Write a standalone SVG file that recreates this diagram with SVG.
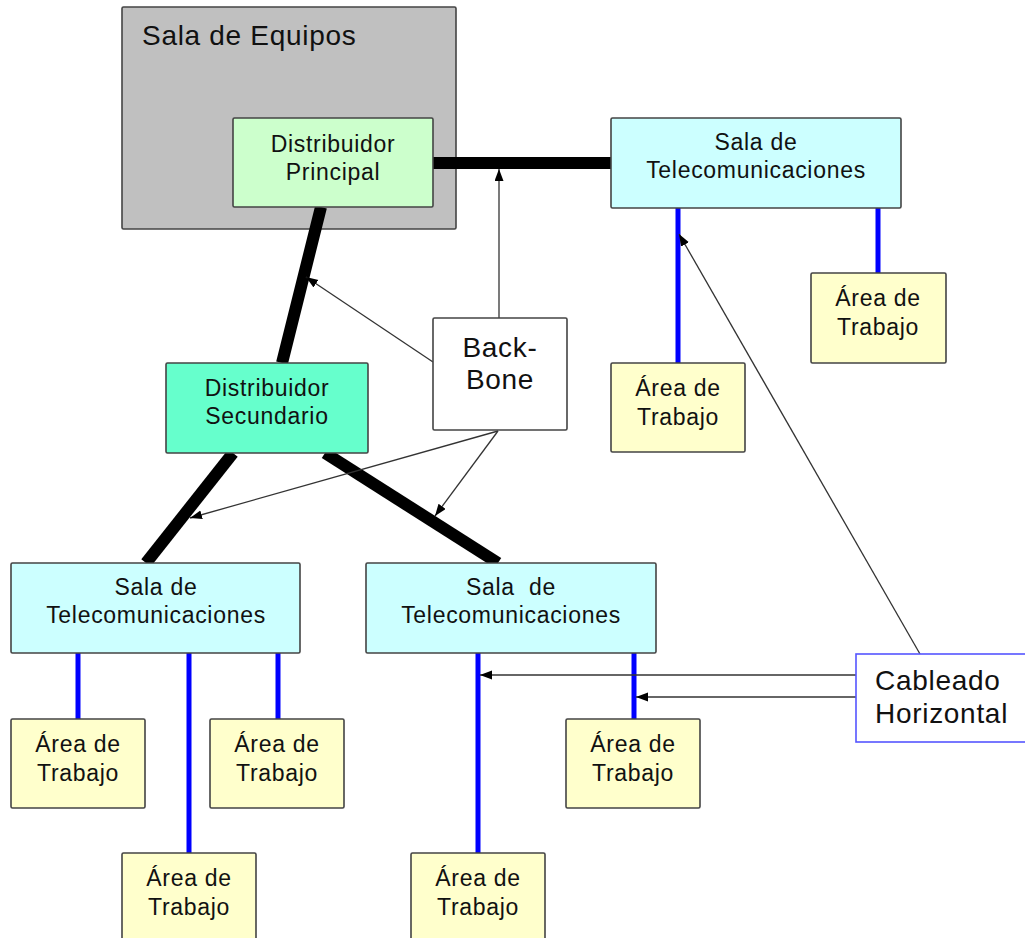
<svg xmlns="http://www.w3.org/2000/svg" width="1025" height="938" viewBox="0 0 1025 938">
<style>
text{font-family:"Liberation Sans",Arial,sans-serif;fill:#111;letter-spacing:0.7px}
.m{font-size:23px;text-anchor:middle}
.big{font-size:28px}
.box{stroke:#444;stroke-width:1.6}
.dp{fill:#ccffcc}
.ds{fill:#66ffcc}
.st{fill:#ccffff}
.at{fill:#ffffcc}
.thick{stroke:#000;stroke-width:12;fill:none}
.blue{stroke:#0000ff;stroke-width:5;fill:none}
.thin{stroke:#333;stroke-width:1.3;fill:none;marker-end:url(#ah)}
</style>
<defs>
<marker id="ah" markerUnits="userSpaceOnUse" markerWidth="13" markerHeight="10" refX="12" refY="4.5" orient="auto">
<path d="M0,0 L12,4.5 L0,9 z" fill="#000"/>
</marker>
</defs>
<rect width="1025" height="938" fill="#fff"/>
<g id="sala-equipos">
<rect class="box" x="122" y="7" width="334" height="222" rx="1.5" fill="#c0c0c0"/>
<text class="big" x="142" y="45">Sala de Equipos</text>
</g>
<g id="connectors">
<line class="thick" x1="433" y1="163" x2="611" y2="163"/>
<line class="thick" x1="321" y1="207" x2="282" y2="363"/>
<line class="thick" x1="233" y1="453" x2="146" y2="563"/>
<line class="thick" x1="325" y1="453" x2="498" y2="563"/>
<line class="blue" x1="678" y1="208" x2="678" y2="363"/>
<line class="blue" x1="878" y1="208" x2="878" y2="273"/>
<line class="blue" x1="78" y1="653" x2="78" y2="719"/>
<line class="blue" x1="189" y1="653" x2="189" y2="853"/>
<line class="blue" x1="278" y1="653" x2="278" y2="719"/>
<line class="blue" x1="478" y1="653" x2="478" y2="853"/>
<line class="blue" x1="634" y1="653" x2="634" y2="719"/>
<line class="thin" x1="499" y1="318" x2="499" y2="169"/>
<line class="thin" x1="433" y1="362" x2="306" y2="277"/>
<line class="thin" x1="498" y1="431" x2="190" y2="518"/>
<line class="thin" x1="498" y1="431" x2="435" y2="516"/>
<line class="thin" x1="920" y1="654" x2="679" y2="234"/>
<line class="thin" x1="856" y1="675" x2="480" y2="675"/>
<line class="thin" x1="856" y1="697" x2="636" y2="697"/>
</g>
<g id="distribuidor-principal">
<rect class="box dp" x="233" y="118" width="200" height="89" rx="1.5"/>
<text class="m" x="333" y="152">Distribuidor</text>
<text class="m" x="333" y="180">Principal</text>
</g>
<g id="sala-tele-1">
<rect class="box st" x="611" y="118" width="290" height="90" rx="1.5"/>
<text class="m" x="756" y="150">Sala de</text>
<text class="m" x="756" y="178">Telecomunicaciones</text>
</g>
<g id="area-1">
<rect class="box at" x="611" y="363" width="134" height="89" rx="1.5"/>
<text class="m" x="678" y="396">Área de</text>
<text class="m" x="678" y="425">Trabajo</text>
</g>
<g id="area-2">
<rect class="box at" x="811" y="273" width="135" height="90" rx="1.5"/>
<text class="m" x="878" y="306">Área de</text>
<text class="m" x="878" y="335">Trabajo</text>
</g>
<g id="backbone">
<rect class="box" x="433" y="318" width="134" height="112" rx="1.5" fill="#fff"/>
<text class="big" x="500" y="357" text-anchor="middle">Back-</text>
<text class="big" x="500" y="389" text-anchor="middle">Bone</text>
</g>
<g id="distribuidor-secundario">
<rect class="box ds" x="166" y="363" width="202" height="90" rx="1.5"/>
<text class="m" x="267" y="396">Distribuidor</text>
<text class="m" x="267" y="424">Secundario</text>
</g>
<g id="sala-tele-2">
<rect class="box st" x="11" y="563" width="289" height="90" rx="1.5"/>
<text class="m" x="156" y="595">Sala de</text>
<text class="m" x="156" y="623">Telecomunicaciones</text>
</g>
<g id="sala-tele-3">
<rect class="box st" x="366" y="563" width="290" height="90" rx="1.5"/>
<text class="m" x="511" y="595" xml:space="preserve">Sala  de</text>
<text class="m" x="511" y="623">Telecomunicaciones</text>
</g>
<g id="area-3">
<rect class="box at" x="11" y="719" width="134" height="89" rx="1.5"/>
<text class="m" x="78" y="752">Área de</text>
<text class="m" x="78" y="781">Trabajo</text>
</g>
<g id="area-4">
<rect class="box at" x="210" y="719" width="134" height="89" rx="1.5"/>
<text class="m" x="277" y="752">Área de</text>
<text class="m" x="277" y="781">Trabajo</text>
</g>
<g id="area-5">
<rect class="box at" x="122" y="853" width="134" height="95" rx="1.5"/>
<text class="m" x="189" y="886">Área de</text>
<text class="m" x="189" y="915">Trabajo</text>
</g>
<g id="area-6">
<rect class="box at" x="566" y="719" width="134" height="89" rx="1.5"/>
<text class="m" x="633" y="752">Área de</text>
<text class="m" x="633" y="781">Trabajo</text>
</g>
<g id="area-7">
<rect class="box at" x="411" y="853" width="134" height="95" rx="1.5"/>
<text class="m" x="478" y="886">Área de</text>
<text class="m" x="478" y="915">Trabajo</text>
</g>
<g id="cableado-horizontal">
<rect x="856" y="654" width="180" height="88" fill="#fff" stroke="#5555ff" stroke-width="1.6"/>
<text class="big" x="875" y="690">Cableado</text>
<text class="big" x="875" y="723">Horizontal</text>
</g>
</svg>
